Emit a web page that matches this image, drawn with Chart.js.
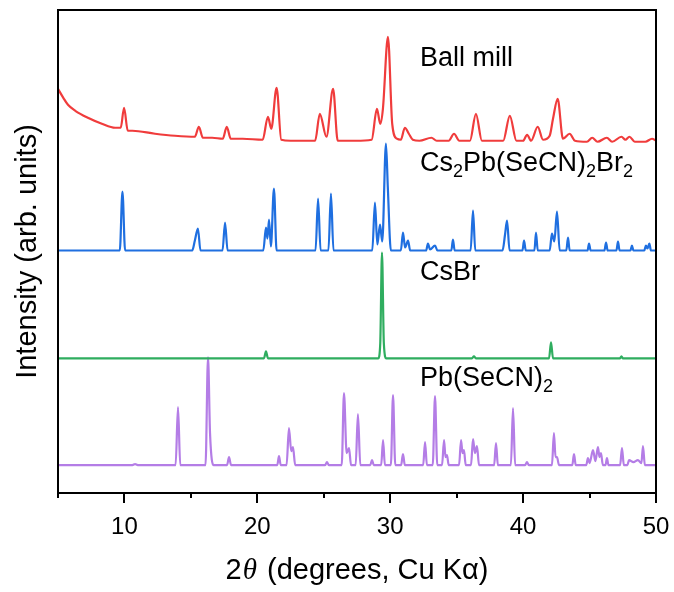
<!DOCTYPE html>
<html>
<head>
<meta charset="utf-8">
<script src="https://cdn.jsdelivr.net/npm/chart.js@4.4.1/dist/chart.umd.min.js"></script>
<style>
  html, body { margin: 0; padding: 0; background: #fff; }
  #wrap { width: 674px; height: 592px; }
</style>
</head>
<body>
<div id="wrap"><canvas id="xrd" width="674" height="592"></canvas></div>
<script>
// --- datos: [2theta, intensidad con desplazamiento] ---
const ballMill = [
  [5.0,405],[5.4,396],[5.75,389],[6.3,383],[7.25,376],[8.3,370],[9.3,366],[9.72,366],[9.97,386],[10.25,363],
  [10.6,363],[12.3,360],[13.8,358],[15.3,357],[15.6,367],[15.9,356],[16.6,356],[17.4,355],[17.7,367],[18.0,355],
  [18.9,355],[20.4,354],[20.8,377],[21.05,365],[21.45,406],[21.8,354],[22.5,353],[24.35,353],[24.7,380],[25.2,357],
  [25.7,405],[26.05,353],[27.4,353],[28.6,354],[29.0,385],[29.25,370],[29.45,385],[29.83,457],[30.15,370],[30.5,355],
  [30.8,354],[31.1,366],[31.4,360],[31.7,354],[32.2,353],[33.1,356],[33.5,353],[34.4,353],[34.8,360],[35.2,353],
  [36.0,353],[36.45,380],[36.9,353],[38.5,353],[39.0,378],[39.5,353],[40.0,353],[40.3,359],[40.6,353],[41.1,367],
  [41.5,354],[42.0,358],[42.25,375],[42.6,395],[43.0,355],[43.5,360],[43.9,353],[44.8,352],[45.2,356],[45.6,352],
  [46.3,356],[46.7,352],[47.4,357],[47.7,354],[48.0,357],[48.4,352],[49.2,352],[49.7,355],[50.0,353]
];

const cs2pb = [
  [5.0,243],[9.65,243],[9.85,302],[10.05,243],[15.1,243],[15.3,253],[15.53,265],[15.72,243],[17.38,243],[17.57,271],
  [17.76,243],[20.45,243],[20.65,266],[20.76,255],[20.88,274],[21.02,247],[21.25,305],[21.45,243],[24.38,243],[24.57,295],
  [24.76,243],[25.35,243],[25.54,300],[25.73,243],[28.65,243],[28.85,291],[29.03,249],[29.23,269],[29.4,252],[29.68,350],
  [29.82,306],[30.05,243],[30.8,243],[30.96,261],[31.12,246],[31.34,253],[31.5,243],[32.7,243],[32.84,250],[33.0,244],
  [33.37,248],[33.55,243],[34.6,243],[34.72,254],[34.85,243],[36.05,243],[36.23,283],[36.4,243],[38.45,243],[38.64,259],
  [38.79,273],[38.98,243],[39.95,243],[40.07,253],[40.2,243],[40.85,243],[40.97,261],[41.1,243],[42.0,243],[42.17,260],
  [42.35,252],[42.55,282],[42.75,243],[43.25,243],[43.38,256],[43.5,243],[44.85,243],[44.96,250],[45.08,243],[46.12,243],
  [46.24,251],[46.36,243],[47.02,243],[47.14,252],[47.26,243],[48.08,243],[48.19,248],[48.3,243],[49.12,243],[49.24,248],
  [49.36,245],[49.5,250],[49.62,243],[50.0,243]
];

const csbr = [
  [5.0,135],[20.5,135],[20.65,142],[20.8,135],[29.1,135],[29.25,150],[29.38,241],[29.52,150],[29.7,135],[36.15,135],
  [36.3,137],[36.45,135],[41.95,135],[42.1,151],[42.25,135],[47.3,135],[47.4,137],[47.5,135],[50.0,135]
];

const pbSecn = [
  [5.0,28],[10.6,28],[10.8,29],[11.0,28],[13.85,28],[14.03,86],[14.2,28],[16.1,28],[16.29,136],[16.44,60],
  [16.7,28],[17.72,28],[17.87,36],[18.02,28],[21.5,28],[21.63,37],[21.76,28],[22.2,28],[22.38,65],[22.55,42],
  [22.68,46],[22.85,28],[25.1,28],[25.24,31],[25.38,28],[26.35,28],[26.52,100],[26.72,40],[26.9,45],[27.05,28],
  [27.4,28],[27.57,79],[27.75,28],[28.5,28],[28.63,33],[28.76,28],[29.32,28],[29.46,53],[29.6,28],[30.05,28],
  [30.21,98],[30.38,28],[30.82,28],[30.96,39],[31.1,28],[32.48,28],[32.62,51],[32.76,28],[33.2,28],[33.37,97],
  [33.54,28],[33.9,28],[34.05,53],[34.16,36],[34.27,38],[34.4,28],[35.18,28],[35.33,53],[35.44,40],[35.55,43],
  [35.68,28],[36.08,28],[36.23,54],[36.38,40],[36.53,47],[36.68,28],[37.82,28],[37.96,50],[38.1,28],[39.08,28],
  [39.24,85],[39.4,28],[40.15,28],[40.29,31],[40.43,28],[42.17,28],[42.32,60],[42.44,36],[42.55,36],[42.7,28],
  [43.7,28],[43.83,39],[43.96,28],[44.75,28],[44.88,35],[45.0,30],[45.26,43],[45.44,32],[45.63,46],[45.75,36],
  [45.86,40],[46.0,28],[46.2,28],[46.31,35],[46.42,28],[47.3,28],[47.44,45],[47.58,28],[47.85,28],[47.97,33],
  [48.3,31],[48.64,33],[48.9,30],[49.02,47],[49.16,28],[50.0,28]
];

const patternNames = ["Ball mill", "Cs_2Pb(SeCN)_2Br_2", "CsBr", "Pb(SeCN)_2"];
const patternColors = ["#f03c3c", "#1f6fe0", "#2fad5f", "#b47de6"];
const xTickValues = [5, 10, 15, 20, 25, 30, 35, 40, 45, 50];

const FONT = "'Liberation Sans', Arial, sans-serif";

// texto con subindices: "_2" -> 2 abajo
function drawRichText(ctx, text, x, y, size) {
    const parts = text.split(/(_\d)/).filter(s => s.length);
    let cx = x;
    parts.forEach(p => {
        if (p[0] === "_") {
            ctx.font = `${Math.round(size * 0.68)}px ${FONT}`;
            ctx.fillText(p.slice(1), cx, y + size * 0.32);
            cx += ctx.measureText(p.slice(1)).width;
        } else {
            ctx.font = `${size}px ${FONT}`;
            ctx.fillText(p, cx, y);
            cx += ctx.measureText(p).width;
        }
    });
}

const decorPlugin = {
    id: "decor",
    afterDraw(chart) {
        const { ctx, chartArea: a, scales } = chart;
        const xs = scales.x, ys = scales.y;
        ctx.save();

        // marco
        ctx.strokeStyle = "#000";
        ctx.lineWidth = 2;
        ctx.strokeRect(a.left, a.top, a.right - a.left, a.bottom - a.top);

        // marcas del eje x
        xTickValues.forEach(v => {
            const px = Math.round(xs.getPixelForValue(v));
            const len = v % 10 === 0 ? 10 : 5;
            ctx.beginPath();
            ctx.moveTo(px, a.bottom);
            ctx.lineTo(px, a.bottom + len);
            ctx.stroke();
        });

        // titulo eje x con theta en cursiva
        ctx.fillStyle = "#000";
        ctx.textBaseline = "middle";
        ctx.textAlign = "left";
        const tSize = 29;
        const serif = `italic ${tSize}px 'Liberation Serif', 'Times New Roman', serif`;
        const p1 = "2", p3 = " (degrees, Cu K\u03b1)";
        ctx.font = serif;
        const wTheta = ctx.measureText("\u03b8").width + 3;
        ctx.font = `${tSize}px ${FONT}`;
        const w1 = ctx.measureText(p1).width, w3 = ctx.measureText(p3).width;
        let tx = (a.left + a.right) / 2 - (w1 + wTheta + w3) / 2;
        const ty = 571;
        ctx.fillText(p1, tx, ty); tx += w1 + 1;
        ctx.font = serif;
        ctx.fillText("\u03b8", tx, ty); tx += wTheta - 1;
        ctx.font = `${tSize}px ${FONT}`;
        ctx.fillText(p3, tx, ty);

        // nombres de cada patron
        const labelY = [435, 330, 221, 115];
        patternNames.forEach((name, i) => {
            drawRichText(ctx, name, xs.getPixelForValue(32.24), ys.getPixelForValue(labelY[i]), 27);
        });

        ctx.restore();
    }
};

const series = [ballMill, cs2pb, csbr, pbSecn];

new Chart(document.getElementById("xrd"), {
    type: "line",
    data: {
        datasets: series.map((s, i) => ({
            label: patternNames[i],
            data: s.map(p => ({ x: p[0], y: p[1] })),
            borderColor: patternColors[i],
            borderWidth: 2.2,
            pointRadius: 0,
            cubicInterpolationMode: "monotone",
            fill: false
        }))
    },
    options: {
        responsive: false,
        devicePixelRatio: 1,
        animation: false,
        parsing: false,
        layout: { padding: { top: 10, right: 18, left: 0, bottom: 0 } },
        plugins: { legend: { display: false }, tooltip: { enabled: false } },
        scales: {
            x: {
                type: "linear",
                min: 5,
                max: 50,
                afterBuildTicks: scale => { scale.ticks = xTickValues.map(v => ({ value: v })); },
                afterFit: scale => { scale.height = 99; },
                // las marcas se dibujan en el plugin; tickLength solo separa las etiquetas
                grid: { display: false, drawTicks: true, tickLength: 20 },
                border: { display: false },
                ticks: {
                    autoSkip: false,
                    maxRotation: 0,
                    padding: 0,
                    color: "#000",
                    font: { family: FONT, size: 24 },
                    callback: v => (v % 10 === 0 ? v : "")
                }
            },
            y: {
                min: 0,
                max: 484,
                afterFit: scale => { scale.width = 58; },
                grid: { display: false, drawTicks: false },
                border: { display: false },
                ticks: { display: false },
                title: {
                    display: true,
                    text: "Intensity (arb. units)",
                    color: "#000",
                    font: { family: FONT, size: 29 },
                    padding: { top: 11, bottom: 0 }
                }
            }
        }
    },
    plugins: [decorPlugin]
});
</script>
</body>
</html>
